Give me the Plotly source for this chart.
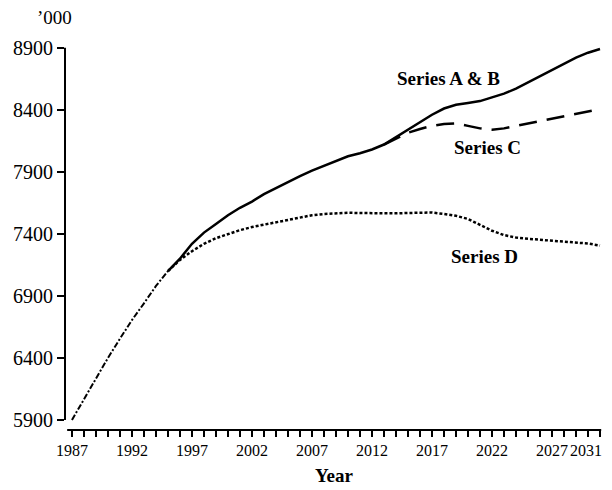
import plotly.graph_objects as go

# ---- data ----
hist_years = [1987, 1988, 1989, 1990, 1991, 1992, 1993, 1994, 1995]
hist_vals = [5900, 6070, 6240, 6400, 6555, 6705, 6840, 6980, 7100]

ab_years = list(range(1995, 2032))
ab_vals = [7100, 7200, 7320, 7410, 7480, 7550, 7610, 7660, 7720, 7770,
           7820, 7865, 7910, 7950, 7990, 8025, 8050, 8080, 8120, 8180,
           8240, 8300, 8360, 8410, 8440, 8455, 8470, 8500, 8530, 8570,
           8620, 8670, 8720, 8770, 8820, 8860, 8890]

c_years = list(range(2013, 2032))
c_vals = [8120, 8170, 8215, 8245, 8270, 8285, 8290, 8270, 8250, 8240,
          8250, 8270, 8290, 8310, 8330, 8350, 8370, 8390, 8405]

d_years = list(range(1995, 2032))
d_vals = [7100, 7190, 7260, 7320, 7365, 7400, 7430, 7455, 7475, 7495,
          7515, 7535, 7550, 7560, 7568, 7570, 7568, 7565, 7565, 7565,
          7568, 7572, 7572, 7560, 7545, 7520, 7470, 7425, 7390, 7370,
          7360, 7352, 7345, 7340, 7332, 7322, 7305]

x_tick_years = list(range(1987, 2032))
x_label_years = [1987, 1992, 1997, 2002, 2007, 2012, 2017, 2022, 2027]
last_year_label = 2031
y_ticks = [5900, 6400, 6900, 7400, 7900, 8400, 8900]

FONT = "Liberation Serif"

fig = go.Figure()
fig.add_trace(go.Scatter(x=hist_years, y=hist_vals, mode="lines",
                         line=dict(color="black", width=2, dash="6px,2px,2px,2px"),
                         showlegend=False))
fig.add_trace(go.Scatter(x=d_years, y=d_vals, mode="lines",
                         line=dict(color="black", width=2.5, dash="3px,2px"),
                         showlegend=False))
fig.add_trace(go.Scatter(x=c_years, y=c_vals, mode="lines",
                         line=dict(color="black", width=2.5, dash="18px,10px"),
                         showlegend=False))
fig.add_trace(go.Scatter(x=ab_years, y=ab_vals, mode="lines",
                         line=dict(color="black", width=2.5),
                         showlegend=False))

ticktext = [str(y) if y in x_label_years else "" for y in x_tick_years]

fig.update_layout(
    width=604, height=482,
    margin=dict(l=57, r=9, t=38, b=60),
    paper_bgcolor="white", plot_bgcolor="white",
    font=dict(family=FONT, color="black"),
    xaxis=dict(range=[1986.42, 2031.25], tickvals=x_tick_years, ticktext=ticktext,
               automargin=False,
               ticks="outside", ticklen=6, tickwidth=1.5, tickcolor="black",
               showgrid=False, zeroline=False, showline=False,
               tickfont=dict(family=FONT, size=16, color="black"),
               title=dict(text="<b>Year</b>", font=dict(family=FONT, size=19, color="black"),
                          standoff=10)),
    yaxis=dict(range=[5819, 8914], tickvals=y_ticks, ticks="outside", ticklen=7,
               automargin=False,
               tickwidth=1.5, tickcolor="black", showgrid=False, zeroline=False,
               showline=False,
               tickfont=dict(family=FONT, size=20, color="black")),
    shapes=[
        dict(type="line", xref="paper", yref="y", x0=0, x1=0, y0=5900, y1=8900,
             line=dict(color="black", width=2)),
        dict(type="line", xref="x", yref="paper", x0=1986.6, x1=2031.1, y0=0, y1=0,
             line=dict(color="black", width=2)),
    ],
    annotations=[
        dict(text="’000", xref="paper", yref="paper", x=-0.0204, y=1.073, showarrow=False,
             xanchor="center", yanchor="middle", font=dict(family=FONT, size=19)),
        dict(text=str(last_year_label), xref="x", yref="paper", x=last_year_label, y=0,
             xanchor="right", yanchor="top", xshift=4, yshift=-10, showarrow=False,
             font=dict(family=FONT, size=16)),
        dict(text="<b>Series A & B</b>", xref="x", yref="y", x=2018.4, y=8650,
             showarrow=False, font=dict(family=FONT, size=19)),
        dict(text="<b>Series C</b>", xref="x", yref="y", x=2021.6, y=8094,
             showarrow=False, font=dict(family=FONT, size=19)),
        dict(text="<b>Series D</b>", xref="x", yref="y", x=2021.4, y=7215,
             showarrow=False, font=dict(family=FONT, size=19)),
    ],
)

fig.write_html("out.html")
